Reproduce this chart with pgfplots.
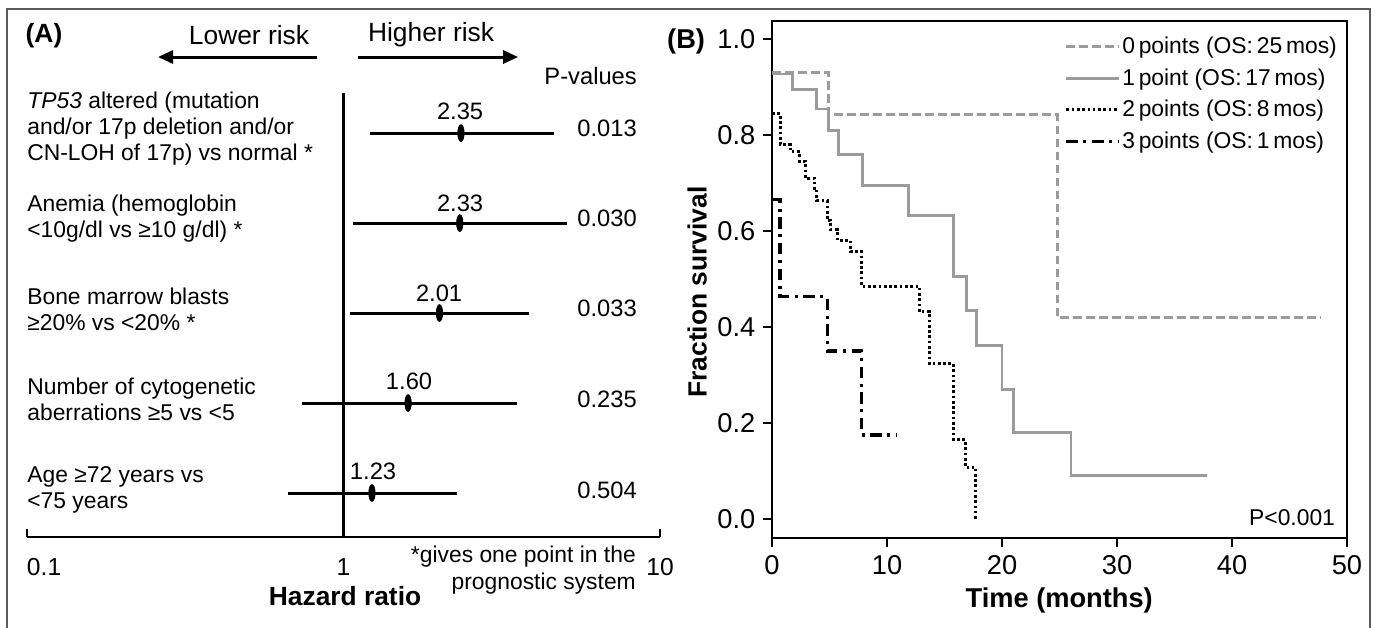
\documentclass[border=0pt]{standalone}
\usepackage{fontspec}
\setmainfont{Liberation Sans}
\usepackage{pgfplots}
\pgfplotsset{compat=1.18}
\usetikzlibrary{arrows.meta}
\definecolor{kmgray}{RGB}{155,155,155}
\definecolor{framegray}{RGB}{90,90,90}
\begin{document}
\begin{tikzpicture}
\useasboundingbox (0,0) rectangle (27.5cm,-12.56cm);
\begin{scope}[x=0.02cm,y=-0.02cm]
 \draw[framegray, line width=1pt] (7,660) -- (7,9) -- (1370,9) -- (1370,660);
 \tikzset{lab/.style={inner sep=0pt, font=\fontsize{13}{14.8}\selectfont},
          num/.style={inner sep=0pt, font=\fontsize{13.5}{15}\selectfont}}
 % panel A header
 \node[inner sep=0pt, font=\fontsize{15}{17}\selectfont\bfseries] at (44,36) {(A)};
 \node[inner sep=0pt, font=\fontsize{15}{17}\selectfont] at (249,35) {Lower risk};
 \node[inner sep=0pt, font=\fontsize{15}{17}\selectfont] at (431,35) {Higher risk};
 \draw[line width=1.7pt, -{Triangle[length=0.3cm,width=0.26cm]}] (317,57) -- (158,57);
 \draw[line width=1.7pt, -{Triangle[length=0.3cm,width=0.26cm]}] (358,57) -- (518,57);
 \node[num, anchor=east] at (637,76) {P-values};
 % row labels
 \node[lab, anchor=west, align=left] at (27,129) {\textit{TP53} altered (mutation\\and/or 17p deletion and/or\\CN-LOH of 17p) vs normal *};
 \node[lab, anchor=west, align=left] at (27,219) {Anemia (hemoglobin\\<10g/dl vs ≥10 g/dl) *};
 \node[lab, anchor=west, align=left] at (27,309) {Bone marrow blasts\\≥20\% vs <20\% *};
 \node[lab, anchor=west, align=left] at (27,399) {Number of cytogenetic\\aberrations ≥5 vs <5};
 \node[lab, anchor=west, align=left] at (27,490) {Age ≥72 years vs\\<75 years};
 % HR labels
 \node[num] at (460,111) {2.35};
 \node[num] at (460,203) {2.33};
 \node[num] at (439,293) {2.01};
 \node[num] at (409,381) {1.60};
 \node[num] at (373,471) {1.23};
 % p-values
 \node[num, anchor=east] at (637,128) {0.013};
 \node[num, anchor=east] at (637,218) {0.030};
 \node[num, anchor=east] at (637,308) {0.033};
 \node[num, anchor=east] at (637,399) {0.235};
 \node[num, anchor=east] at (637,490) {0.504};
 % footnote and axis title
 \node[inner sep=0pt, anchor=east, align=right, font=\fontsize{13}{15.4}\selectfont] at (636,570) {*gives one point in the\\prognostic system};
 \node[inner sep=0pt, font=\fontsize{15}{17}\selectfont\bfseries] at (345,596) {Hazard ratio};
 % panel B texts
 \node[inner sep=0pt, font=\fontsize{15.5}{17}\selectfont\bfseries] at (686,41) {(B)};
 \node[inner sep=0pt, rotate=90, font=\fontsize{15}{17}\selectfont\bfseries] at (697,292) {Fraction survival};
 \node[inner sep=0pt, font=\fontsize{15.5}{17}\selectfont\bfseries] at (1059,600) {Time (months)};
 \node[inner sep=0pt, anchor=east, font=\fontsize{13}{15}\selectfont] at (1335,518) {P<0.001};
\end{scope}

% ---------- Panel A: forest plot ----------
\begin{axis}[
 at={(0.54cm,-10.74cm)}, anchor=south west, scale only axis,
 width=12.66cm, height=8.87cm,
 xmode=log, xmin=0.1, xmax=10, ymin=0.5111, ymax=5.44,
 axis x line=bottom, axis y line=none,
 x axis line style={-, line width=1.5pt},
 xtick={0.1,1,10}, xticklabels={{\makebox[0pt][l]{0.1}},1,10},
 xminorticks=false, tick align=inside, major tick length=0.16cm,
 every tick/.style={line width=1.5pt, black},
 xticklabel style={font=\fontsize{14}{16}\selectfont, yshift=-0.3cm},
 clip=false,
]
\addplot[line width=1.5pt] coordinates {(1,0.5111) (1,5.44)};
\addplot[line width=1.7pt] coordinates {(1.21,5) (4.64,5)};
\addplot[line width=1.7pt] coordinates {(1.075,4) (5.07,4)};
\addplot[line width=1.7pt] coordinates {(1.05,3) (3.85,3)};
\addplot[line width=1.7pt] coordinates {(0.74,2) (3.53,2)};
\addplot[line width=1.7pt] coordinates {(0.67,1) (2.29,1)};
\addplot[only marks, mark=*, mark size=4.8pt, mark options={xscale=0.38, fill=black, draw=black}]
 coordinates {(2.35,5) (2.33,4) (2.01,3) (1.60,2) (1.23,1)};
\end{axis}

% ---------- Panel B: Kaplan-Meier ----------
\begin{axis}[
 at={(15.44cm,-10.76cm)}, anchor=south west, scale only axis,
 width=11.5cm, height=10.34cm,
 xmin=0, xmax=50, ymin=-0.0396, ymax=1.0375,
 axis line style={line width=1.6pt},
 xtick={0,10,20,30,40,50}, ytick={0,0.2,0.4,0.6,0.8,1},
 tick align=outside, tick pos=left, major tick length=0.18cm,
 every tick/.style={line width=1.5pt, black},
 /pgf/number format/assume math mode=true,
 yticklabel style={/pgf/number format/.cd, fixed, fixed zerofill, precision=1, /tikz/.cd,
   font=\fontsize{15.5}{17}\selectfont, xshift=-0.03cm},
 xticklabel style={font=\fontsize{15.5}{17}\selectfont, yshift=-0.05cm},
 legend style={at={(0.986,0.973)}, anchor=north east, draw=none, fill=none,
   font=\fontsize{13}{15}\selectfont, row sep=5pt, inner sep=0pt,
   nodes={inner sep=1pt}},
 legend cell align=left,
 legend image code/.code={\draw[#1] (0cm,0cm) -- (1.05cm,0cm);},
]
\addlegendimage{kmgray, line width=1.6pt, dash pattern=on 5pt off 2.4pt}
\addlegendentry{0\,points (OS:\,25\,mos)}
\addlegendimage{kmgray, line width=1.6pt}
\addlegendentry{1\,point (OS:\,17\,mos)}
\addlegendimage{black, line width=1.7pt, dash pattern=on 1.5pt off 1.5pt}
\addlegendentry{2\,points (OS:\,8\,mos)}
\addlegendimage{black, line width=1.8pt, dash pattern=on 6.5pt off 3.2pt on 1.7pt off 3.2pt}
\addlegendentry{3\,points (OS:\,1\,mos)}

\addplot[forget plot, const plot, kmgray, line width=1.6pt] coordinates {
 (0,0.927) (1.8,0.894) (3.9,0.854) (4.9,0.81) (5.8,0.76) (7.9,0.695) (11.9,0.633)
 (15.8,0.506) (16.9,0.435) (17.8,0.361) (20,0.27) (21,0.18) (26,0.09) (37.8,0.09)};
\addplot[forget plot, const plot, kmgray, line width=1.6pt, dash pattern=on 5pt off 2.4pt] coordinates {
 (0,0.93) (4.9,0.842) (24.8,0.42) (47.7,0.42)};
\addplot[forget plot, const plot, black, line width=1.7pt, dash pattern=on 1.5pt off 1.5pt] coordinates {
 (0,0.845) (0.7,0.78) (1.6,0.765) (2.4,0.745) (2.9,0.71) (3.7,0.688) (3.9,0.663)
 (4.8,0.622) (5.1,0.603) (5.7,0.58) (6.8,0.557) (7.8,0.485) (12.8,0.432)
 (13.7,0.323) (15.8,0.165) (16.8,0.108) (17.7,0)};
\addplot[forget plot, const plot, black, line width=1.8pt, dash pattern=on 6.5pt off 3.2pt on 1.7pt off 3.2pt] coordinates {
 (0,0.665) (0.7,0.463) (4.8,0.35) (7.8,0.175) (10.8,0.175)};
\end{axis}
\end{tikzpicture}
\end{document}
